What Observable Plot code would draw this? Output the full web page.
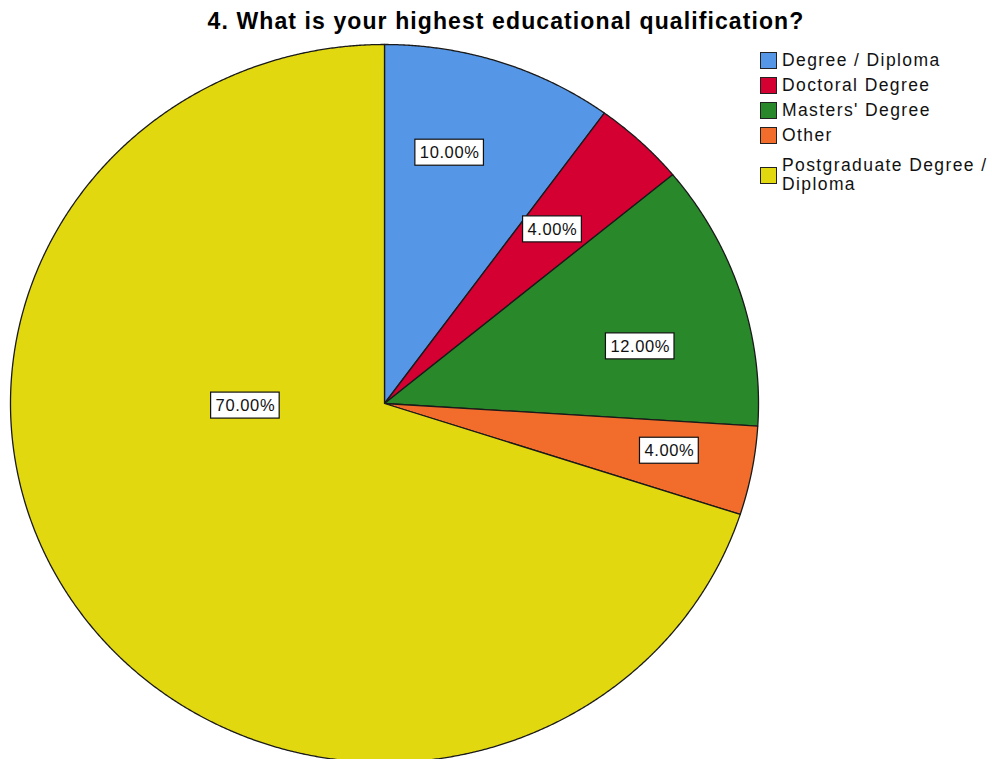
<!DOCTYPE html>
<html>
<head>
<meta charset="utf-8">
<script src="https://cdn.jsdelivr.net/npm/d3@7"></script>
<script src="https://cdn.jsdelivr.net/npm/@observablehq/plot@0.6"></script>
<style>
  html, body { margin: 0; padding: 0; background: #fff; }
  #wrap { position: relative; width: 992px; height: 759px; overflow: hidden; font-family: "Liberation Sans", Arial, sans-serif; }
  #title { height: 40px; box-sizing: border-box; padding-top: 5px; padding-left: 20px; text-align: center; font-size: 23px; font-weight: bold; letter-spacing: 1.1px; line-height: 32px; color: #000; white-space: nowrap; }
  #legend { position: absolute; left: 760px; top: 48px; font-size: 17.5px; letter-spacing: 1.4px; color: #111; }
  .row { display: flex; align-items: center; height: 25px; }
  .row.two { height: 44px; margin-top: 5px; line-height: 19px; }
  .sw { width: 15px; height: 15px; border: 1px solid #222; margin-right: 5px; flex: none; }
  svg text { letter-spacing: 0.6px; }
</style>
</head>
<body>
<div id="wrap">
  <div id="title">4. What is your highest educational qualification?</div>
  <div id="chart"></div>
  <div id="legend"></div>
</div>
<script>
// ---- data ----
const categories = ["Degree / Diploma", "Doctoral Degree", "Masters' Degree", "Other", "Postgraduate Degree / Diploma"];
const percents = [10, 4, 12, 4, 70];
const valueLabels = ["10.00%", "4.00%", "12.00%", "4.00%", "70.00%"];
const legendLines = [["Degree / Diploma"], ["Doctoral Degree"], ["Masters' Degree"], ["Other"], ["Postgraduate Degree /", "Diploma"]];

// ---- styles / layout ----
const colors = ["#5596e6", "#d50032", "#29892a", "#f26c2c", "#e2d810"];
const W = 992, H = 719;
const cx = 384, cy = 363, rx = 374, ry = 359;         // pie placement in the svg
const labelAngleDeg = [14, 42.8, 76.9, 99.8, 269.1];   // label anchor (SPSS-like placement)
const labelRadius = [0.72, 0.661, 0.702, 0.773, 0.372];
const boxH = 26;

// ---- geometry from data ----
const arcs = d3.pie().sort(null).value(d => d)(percents);
const slices = [];
arcs.forEach((a, i) => {
  const steps = Math.max(2, Math.ceil((a.endAngle - a.startAngle) / (Math.PI / 720)));
  slices.push({cat: categories[i], x: 0, y: 0});
  for (let k = 0; k <= steps; k++) {
    const t = a.startAngle + (a.endAngle - a.startAngle) * k / steps;
    slices.push({cat: categories[i], x: Math.sin(t), y: Math.cos(t)});
  }
});

const ctx = document.createElement("canvas").getContext("2d");
ctx.font = "16.5px 'Liberation Sans', Arial";
const labelData = valueLabels.map((txt, i) => {
  const t = labelAngleDeg[i] * Math.PI / 180;
  const x = labelRadius[i] * Math.sin(t), y = labelRadius[i] * Math.cos(t);
  const tw = ctx.measureText(txt).width + txt.length * 0.6 + 9;
  return {txt, x, y, hw: tw / 2 / rx, hh: boxH / 2 / ry};
});

const plot = Plot.plot({
  width: W, height: H,
  margin: 0,
  x: {domain: [-cx / rx, (W - cx) / rx], range: [0, W], axis: null},
  y: {domain: [-(H - cy) / ry, cy / ry], range: [H, 0], axis: null},
  color: {domain: categories, range: colors, legend: false},
  style: {fontFamily: "'Liberation Sans', Arial, sans-serif", background: "#fff"},
  marks: [
    Plot.line(slices, {x: "x", y: "y", z: "cat", fill: "cat", stroke: "#1a1a1a", strokeWidth: 1.3, curve: "linear-closed", strokeLinejoin: "round"}),
    Plot.rect(labelData, {x1: d => d.x - d.hw, x2: d => d.x + d.hw, y1: d => d.y - d.hh, y2: d => d.y + d.hh, fill: "#fff", stroke: "#111", strokeWidth: 1.2}),
    Plot.text(labelData, {x: "x", y: "y", text: "txt", fontSize: 16.5, fill: "#111"})
  ]
});
document.getElementById("chart").appendChild(plot);

// ---- legend ----
const leg = document.getElementById("legend");
categories.forEach((c, i) => {
  const row = document.createElement("div");
  row.className = "row" + (legendLines[i].length > 1 ? " two" : "");
  const sw = document.createElement("div");
  sw.className = "sw";
  sw.style.background = colors[i];
  const tx = document.createElement("div");
  tx.innerHTML = legendLines[i].join("<br>");
  row.appendChild(sw); row.appendChild(tx);
  leg.appendChild(row);
});
</script>
</body>
</html>
